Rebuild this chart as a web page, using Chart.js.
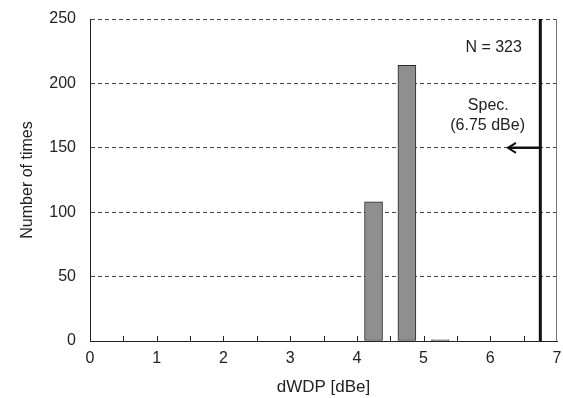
<!DOCTYPE html>
<html>
<head>
<meta charset="utf-8">
<script src="https://cdn.jsdelivr.net/npm/chart.js@4.4.1/dist/chart.umd.min.js"></script>
<style>
  html, body { margin: 0; padding: 0; background: #fff; }
  #wrap { width: 563px; height: 398px; }
</style>
</head>
<body>
<div id="wrap"><canvas id="c" width="563" height="398"></canvas></div>
<script>
// Histogram of dWDP measurements
const binCenters = [4.25, 4.75, 5.25];
const binCounts = [108, 214, 1];
const yTicks = [0, 50, 100, 150, 200, 250];
const xTicks = [0, 1, 2, 3, 4, 5, 6, 7];
const specValue = 6.75;
const specArrowTip = 6.25;
const specArrowLevel = 150;
const totalLabel = 'N = 323';
const specLabel = ['Spec.', '(6.75 dBe)'];

const FONT = '"Liberation Sans", Arial, sans-serif';

const decorPlugin = {
  id: 'decor',
  afterDatasetsDraw(chart) {
    const { ctx, chartArea: a, scales: { x, y } } = chart;
    ctx.save();
    // right frame edge
    ctx.strokeStyle = '#777';
    ctx.lineWidth = 1;
    ctx.beginPath();
    ctx.moveTo(a.right - 0.5, a.top);
    ctx.lineTo(a.right - 0.5, a.bottom);
    ctx.stroke();
    // inward minor ticks every 0.5 on x axis
    ctx.strokeStyle = '#222';
    for (let v = 0.5; v < 7; v += 0.5) {
      const px = Math.round(x.getPixelForValue(v)) + 0.5;
      ctx.beginPath();
      ctx.moveTo(px, a.bottom);
      ctx.lineTo(px, a.bottom - 5);
      ctx.stroke();
    }
    // specification limit
    const sx = x.getPixelForValue(specValue);
    ctx.strokeStyle = '#111';
    ctx.lineWidth = 3;
    ctx.beginPath();
    ctx.moveTo(sx, a.top);
    ctx.lineTo(sx, a.bottom);
    ctx.stroke();
    // arrow pointing to the allowed side
    const ay = y.getPixelForValue(specArrowLevel);
    const tx = x.getPixelForValue(specArrowTip);
    ctx.lineWidth = 2.5;
    ctx.beginPath();
    ctx.moveTo(sx, ay);
    ctx.lineTo(tx + 1, ay);
    ctx.stroke();
    ctx.lineWidth = 2;
    ctx.beginPath();
    ctx.moveTo(tx + 9, ay - 5);
    ctx.lineTo(tx + 1, ay);
    ctx.lineTo(tx + 9, ay + 5);
    ctx.stroke();
    // annotations
    ctx.fillStyle = '#222';
    ctx.font = '16px ' + FONT;
    ctx.textAlign = 'center';
    ctx.textBaseline = 'middle';
    ctx.fillText(totalLabel, x.getPixelForValue(6.05), y.getPixelForValue(228));
    ctx.fillText(specLabel[0], x.getPixelForValue(5.97), y.getPixelForValue(183));
    ctx.fillText(specLabel[1], x.getPixelForValue(5.96), y.getPixelForValue(167));
    ctx.restore();
  }
};

new Chart(document.getElementById('c'), {
  type: 'bar',
  data: {
    datasets: [{
      data: binCenters.map((c, i) => ({ x: c, y: binCounts[i] })),
      backgroundColor: (ctx) => (ctx.raw && ctx.raw.y < 5 ? '#333' : '#8f8f8f'),
      borderColor: '#2a2a2a',
      borderWidth: 1,
      borderSkipped: false,
      barThickness: 18
    }]
  },
  options: {
    responsive: false,
    animation: false,
    devicePixelRatio: 1,
    layout: { padding: { left: 0, right: 6, top: 19, bottom: 0 } },
    plugins: { legend: { display: false }, tooltip: { enabled: false } },
    scales: {
      x: {
        type: 'linear',
        min: 0, max: 7,
        offset: false,
        afterFit(s) { s.height = 57; s.paddingLeft = 0; s.paddingRight = 0; },
        afterBuildTicks(s) { s.ticks = xTicks.map(v => ({ value: v })); },
        grid: { display: false, drawTicks: false },
        border: { display: true, color: '#222', width: 1 },
        ticks: { color: '#222', font: { family: FONT, size: 16 }, padding: 8 },
        title: { display: true, text: 'dWDP [dBe]', color: '#222', font: { family: FONT, size: 17 }, padding: { top: 4, bottom: 0 } }
      },
      y: {
        min: 0, max: 250,
        afterFit(s) { s.width = 90; s.paddingTop = 0; s.paddingBottom = 0; },
        afterBuildTicks(s) { s.ticks = yTicks.map(v => ({ value: v })); },
        grid: {
          display: true,
          drawTicks: false,
          color: (ctx) => ctx.tick && ctx.tick.value === 0 ? 'rgba(0,0,0,0)' : '#444',
          lineWidth: 1
        },
        border: { display: true, color: '#222', width: 1, dash: [4, 3] },
        ticks: { color: '#222', font: { family: FONT, size: 16 }, padding: 14 },
        title: { display: true, text: 'Number of times', color: '#222', font: { family: FONT, size: 16 }, padding: { top: 18, bottom: 0 } }
      }
    }
  },
  plugins: [decorPlugin]
});
</script>
</body>
</html>
